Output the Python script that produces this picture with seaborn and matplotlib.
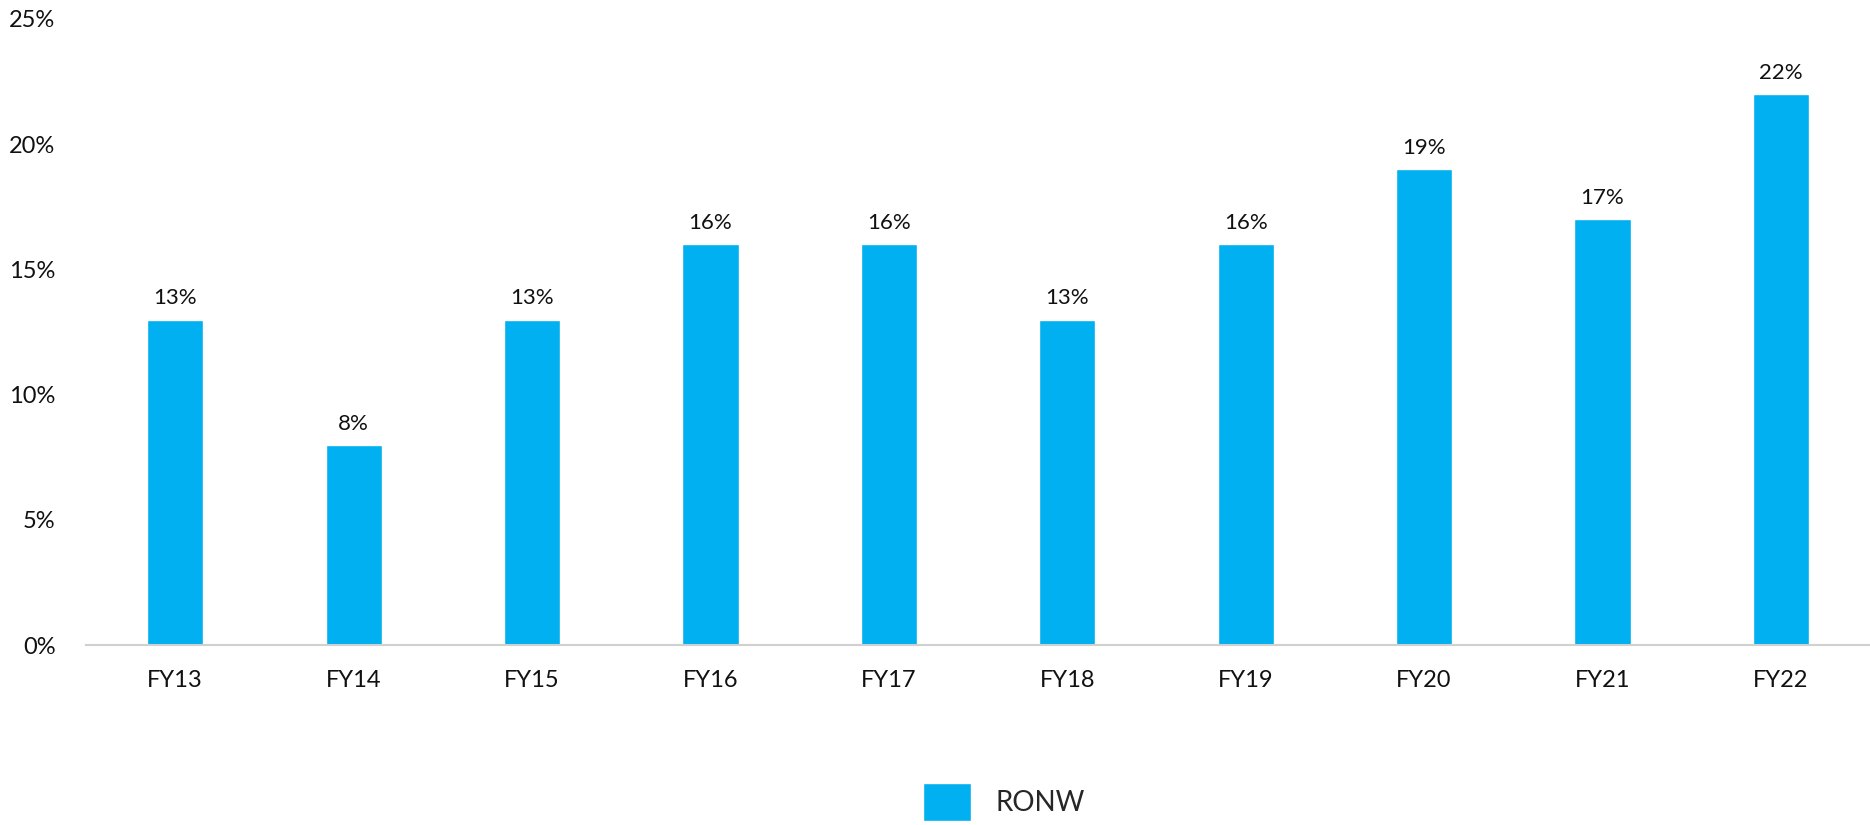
import matplotlib
matplotlib.use("Agg")
import matplotlib.pyplot as plt
import pandas as pd
import seaborn as sns

years = ["FY13", "FY14", "FY15", "FY16", "FY17", "FY18", "FY19", "FY20", "FY21", "FY22"]
ronw = [13, 8, 13, 16, 16, 13, 16, 19, 17, 22]
yticks = [0, 5, 10, 15, 20, 25]

df = pd.DataFrame({"year": years, "RONW": ronw})

sns.set_style("white")
plt.rcParams["font.family"] = ["Lato", "DejaVu Sans"]

fig = plt.figure(figsize=(18.7, 8.25), dpi=100)
ax = fig.add_axes([0.046, 0.218, 0.954, 0.759])

sns.barplot(data=df, x="year", y="RONW", color="#00B0F0", saturation=1,
            width=0.315, ax=ax, label="RONW")
ax.bar_label(ax.containers[0], fmt="{:.0f}%", padding=8, fontsize=16, color="#111111")

ax.set_xlim(-0.5, 9.5)
ax.set_ylim(0, 25)
ax.set_yticks(yticks)
ax.set_yticklabels([f"{v}%" for v in yticks])
ax.tick_params(axis="y", labelsize=17, length=0, pad=22, colors="#111111")
ax.tick_params(axis="x", labelsize=17, length=0, pad=18, colors="#111111")
ax.set_xlabel("")
ax.set_ylabel("")
for s in ["top", "right", "left"]:
    ax.spines[s].set_visible(False)
ax.spines["bottom"].set_color("#d0d0d0")
ax.spines["bottom"].set_linewidth(1.5)
ax.patch.set_alpha(0)

if ax.get_legend():
    ax.get_legend().remove()
handles, labels = ax.get_legend_handles_labels()
fig.legend(handles[:1], ["RONW"], loc="center", bbox_to_anchor=(0.537, 0.028),
           frameon=False, fontsize=20, handlelength=1.7, handleheight=1.7,
           handletextpad=0.9)

fig.savefig("out.png", dpi=100)
